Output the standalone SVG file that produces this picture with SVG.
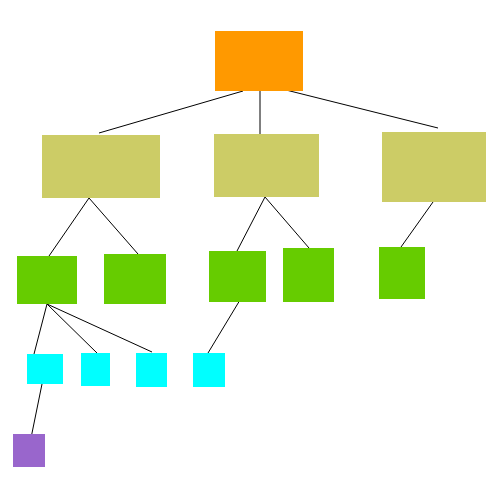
<svg xmlns="http://www.w3.org/2000/svg" width="500" height="500" viewBox="0 0 500 500">
<style>
.l{stroke:#000;stroke-width:1;fill:none}
.o{fill:#FF9900}.k{fill:#CCCC66}.g{fill:#66CC00}.c{fill:#00FFFF}.p{fill:#9966CC}
</style>
<rect width="500" height="500" fill="#fff"/>
<g id="connectors">
<line class="l" x1="243" y1="91" x2="99" y2="133"/>
<line class="l" x1="260" y1="91" x2="260" y2="134"/>
<line class="l" x1="286" y1="90" x2="438" y2="128"/>
<line class="l" x1="89" y1="198" x2="49" y2="256"/>
<line class="l" x1="89" y1="198" x2="138" y2="254"/>
<line class="l" x1="265" y1="197" x2="237" y2="251"/>
<line class="l" x1="265" y1="197" x2="309" y2="248"/>
<line class="l" x1="433" y1="202" x2="401" y2="247"/>
<line class="l" x1="47" y1="304" x2="34" y2="354"/>
<line class="l" x1="47" y1="304" x2="98" y2="354"/>
<line class="l" x1="47" y1="304" x2="152" y2="352"/>
<line class="l" x1="240" y1="300" x2="208" y2="353"/>
<line class="l" x1="42" y1="384" x2="31" y2="438"/>
</g>
<g id="root"><rect class="o" x="215" y="31" width="88" height="60"/></g>
<g id="n1"><rect class="k" x="42" y="135" width="118" height="63"/></g>
<g id="n2"><rect class="k" x="214" y="134" width="105" height="63"/></g>
<g id="n3"><rect class="k" x="382" y="132" width="104" height="70"/></g>
<g id="n11"><rect class="g" x="17" y="256" width="60" height="48"/></g>
<g id="n12"><rect class="g" x="104" y="254" width="62" height="50"/></g>
<g id="n21"><rect class="g" x="209" y="251" width="57" height="51"/></g>
<g id="n22"><rect class="g" x="283" y="248" width="51" height="54"/></g>
<g id="n31"><rect class="g" x="379" y="247" width="46" height="52"/></g>
<g id="n111"><rect class="c" x="27" y="354" width="36" height="30"/></g>
<g id="n112"><rect class="c" x="81" y="353" width="29" height="33"/></g>
<g id="n113"><rect class="c" x="136" y="353" width="31" height="34"/></g>
<g id="n211"><rect class="c" x="193" y="353" width="32" height="34"/></g>
<g id="n1111"><rect class="p" x="13" y="434" width="32" height="33"/></g>
</svg>
